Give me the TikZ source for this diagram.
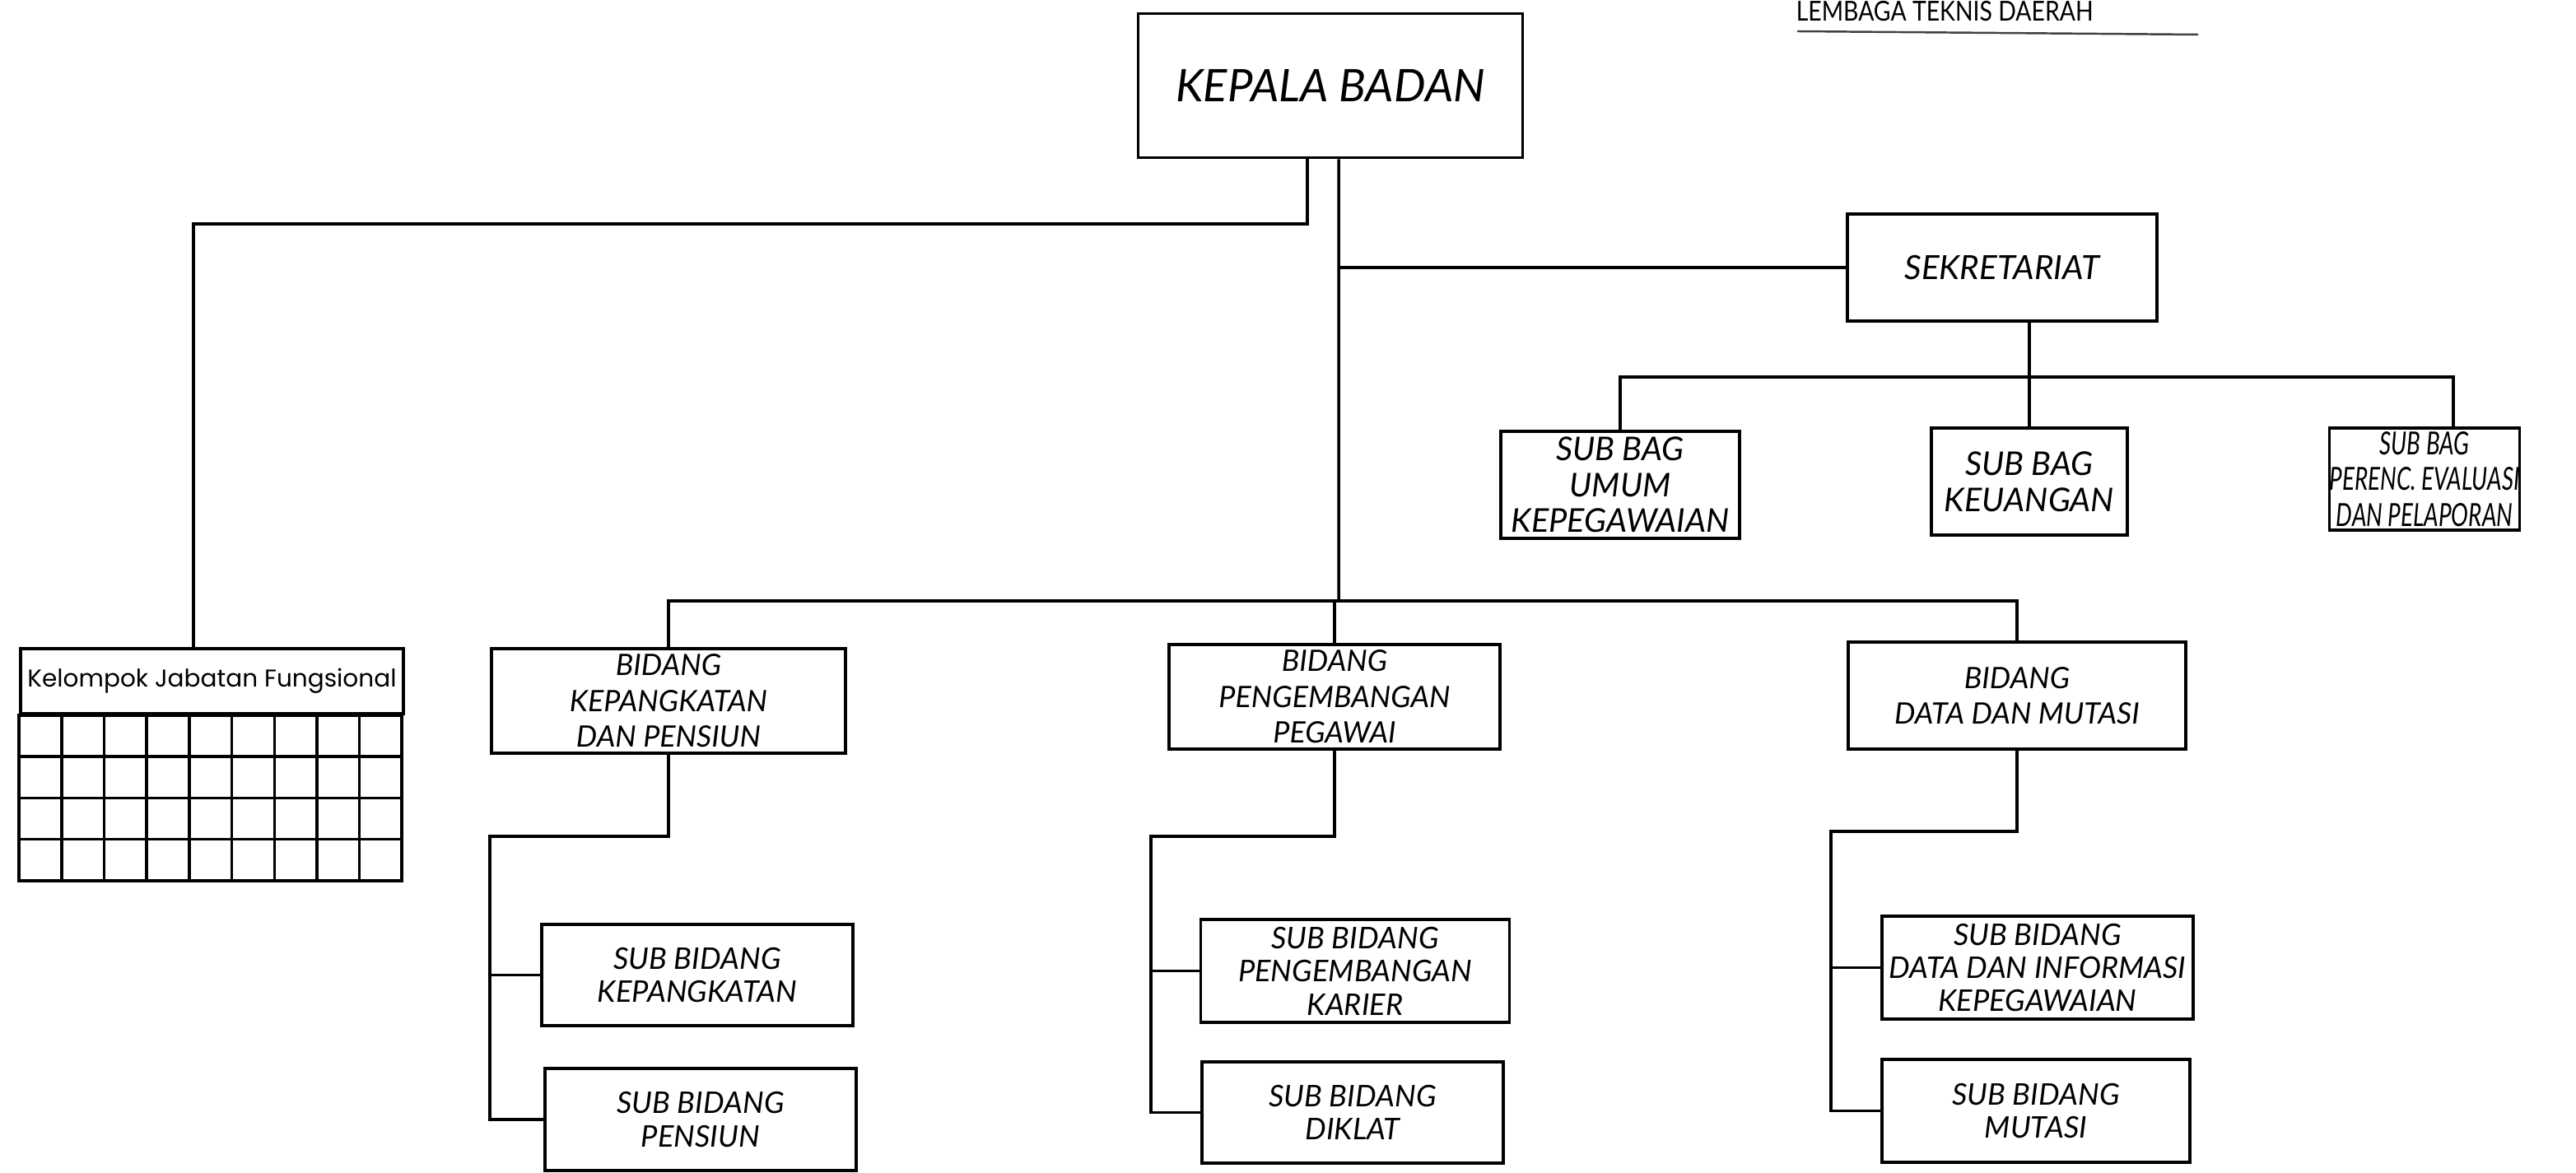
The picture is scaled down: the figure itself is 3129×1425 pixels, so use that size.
\documentclass[tikz,border=0pt]{standalone}
\usepackage{fontspec}
\setmainfont{Lato}
\newfontfamily\gothicfont{Poppins}
\newfontfamily\narrowfont[FakeStretch=0.72]{Lato}

\begin{document}
\begin{tikzpicture}[x=0.01cm,y=-0.01cm,line width=1pt,
    main node/.style={draw,line width=1pt,align=center,inner sep=0pt,font=\itshape\fontsize{10.2}{12.4}\selectfont},
    sub node/.style={main node,font=\itshape\fontsize{10.3}{11.5}\selectfont},
    bag node/.style={main node,font=\itshape\fontsize{11.3}{12.4}\selectfont}]
    \useasboundingbox (0,0) rectangle (3129,1425);

    % heading at the top edge
    \node (0) at (2180,26) [anchor=base west,inner sep=0pt,font=\fontsize{9.5}{10}\selectfont] {\scalebox{0.85}[1]{LEMBAGA TEKNIS DAERAH}};
    \draw[line width=0.7pt,black!75] (2183,38) -- (2670,42);

    \node (1) at (1616,104) [main node,minimum width=4.67cm,minimum height=1.75cm,font=\itshape\fontsize{15.5}{18}\selectfont] {KEPALA BADAN};
    \node (2) at (257.5,827.5) [main node,minimum width=4.65cm,minimum height=0.79cm,font=\gothicfont\fontsize{8.4}{10}\selectfont] {Kelompok Jabatan Fungsional};
    \node (3) at (2432,325) [main node,minimum width=3.76cm,minimum height=1.3cm,font=\itshape\fontsize{11.5}{13}\selectfont] {SEKRETARIAT};

    \node (4) at (812,851.5) [main node,minimum width=4.3cm,minimum height=1.27cm] {BIDANG\\KEPANGKATAN\\DAN PENSIUN};
    \node (5) at (1621,846.5) [main node,minimum width=4.02cm,minimum height=1.27cm] {BIDANG\\PENGEMBANGAN\\PEGAWAI};
    \node (6) at (2450,845) [main node,minimum width=4.1cm,minimum height=1.3cm] {BIDANG\\DATA DAN MUTASI};

    \node (7) at (1968,589) [bag node,minimum width=2.9cm,minimum height=1.3cm] {SUB BAG\\UMUM\\KEPEGAWAIAN};
    \node (8) at (2465,585) [bag node,minimum width=2.38cm,minimum height=1.3cm] {SUB BAG\\KEUANGAN};
    \node (9) at (2945,582) [bag node,minimum width=2.3cm,minimum height=1.24cm,font=\narrowfont\itshape\fontsize{11}{12.3}\selectfont] {SUB BAG\\PERENC. EVALUASI\\DAN PELAPORAN};

    \node (10) at (847,1184.5) [sub node,minimum width=3.78cm,minimum height=1.23cm] {SUB BIDANG\\KEPANGKATAN};
    \node (11) at (851,1360) [sub node,minimum width=3.78cm,minimum height=1.24cm] {SUB BIDANG\\PENSIUN};
    \node (12) at (1646,1179.5) [sub node,minimum width=3.75cm,minimum height=1.25cm] {SUB BIDANG\\PENGEMBANGAN\\KARIER};
    \node (13) at (1643,1351.5) [sub node,minimum width=3.66cm,minimum height=1.23cm] {SUB BIDANG\\DIKLAT};
    \node (14) at (2475,1175.5) [sub node,minimum width=3.78cm,minimum height=1.25cm] {SUB BIDANG\\DATA DAN INFORMASI\\KEPEGAWAIAN};
    \node (15) at (2473,1349.5) [sub node,minimum width=3.74cm,minimum height=1.25cm] {SUB BIDANG\\MUTASI};

    % grid under the functional group
    \draw (2.south west) rectangle ++(465,201);
    \foreach \i in {1,...,8}
        \draw ([xshift=\i*5.1667mm]2.south west) -- ++(0,201);
    \foreach \j in {1,2,3}
        \draw ([yshift=-\j*5.025mm]2.south west) -- ++(465,0);

    \coordinate (a) at (235,272);
    \coordinate (b) at (1626,730);
    \coordinate (c) at (2465,458);
    \coordinate (k) at (595,1016);
    \coordinate (p) at (1398,1016);
    \coordinate (m) at (2224,1010);

    \draw ([xshift=-2.8mm]1.south) |- (a) -- (a |- 2.north);
    \draw ([xshift=1mm]1.south) -- (b);
    \draw (3.west -| b) -- (3.west);
    \draw (4.north) |- (b) -| (6.north);
    \draw (5.north) -- (5.north |- b);

    \draw (3.south -| c) -- (8.north);
    \draw (7.north) |- (c) -| ([xshift=3.5mm]9.north);

    \draw (4.south) |- (k) |- (11.west);
    \draw (k |- 10.west) -- (10.west);
    \draw (5.south) |- (p) |- (13.west);
    \draw (p |- 12.west) -- (12.west);
    \draw (6.south) |- (m) |- (15.west);
    \draw (m |- 14.west) -- (14.west);
\end{tikzpicture}
\end{document}
